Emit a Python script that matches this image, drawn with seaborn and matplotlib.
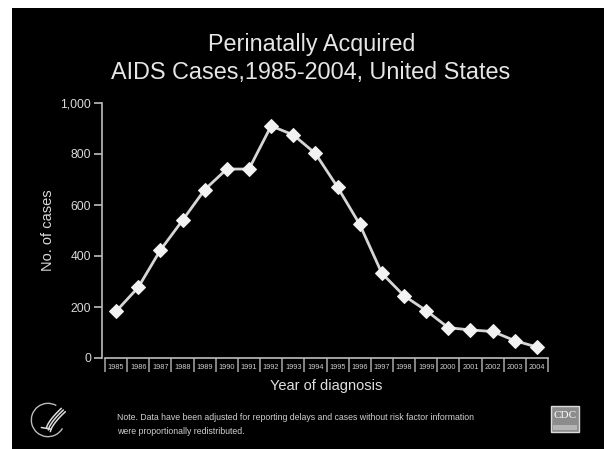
import numpy as np
import pandas as pd
import seaborn as sns
import matplotlib
matplotlib.use("Agg")
import matplotlib.pyplot as plt
from matplotlib.patches import Rectangle, Arc

# Data
years = [str(y) for y in range(1985, 2005)]
cases = [183, 277, 423, 540, 660, 741, 741, 910, 875, 802,
         670, 524, 332, 244, 186, 119, 110, 104, 68, 43]
y_ticks = [0, 200, 400, 600, 800, 1000]
y_labels = ["0", "200", "400", "600", "800", "1,000"]

df = pd.DataFrame({"year": years, "cases": cases})

sns.set_theme(style="dark")
plt.rcParams["font.family"] = ["Liberation Sans", "DejaVu Sans"]

fig = plt.figure(figsize=(6.09, 4.49), dpi=100)
fig.patch.set_facecolor("white")

# black slide panel as a background axes
bg = fig.add_axes([12 / 609, 0, 592 / 609, 441 / 449], zorder=-5)
bg.set_facecolor("black")
bg.set_xticks([])
bg.set_yticks([])
for s in bg.spines.values():
    s.set_visible(False)

ax = fig.add_axes([105 / 609, 1 - 358 / 449, 443 / 609, 255 / 449], zorder=1)
ax.set_facecolor("black")

sns.lineplot(data=df, x="year", y="cases", ax=ax, color="#d6d6d6",
             linewidth=2, marker="D", markersize=7,
             markerfacecolor="#f2f2f2", markeredgecolor="#f2f2f2",
             sort=False)

ax.set_xlim(-0.5, len(years) - 0.5)
ax.set_ylim(0, 1000)
ax.set_yticks(y_ticks)
ax.set_yticklabels(y_labels)
ax.grid(False)

for s in ["top", "right"]:
    ax.spines[s].set_visible(False)
for s in ["left", "bottom"]:
    ax.spines[s].set_color("#bdbdbd")
    ax.spines[s].set_linewidth(1.2)
ax.spines["left"].set_position(("outward", 2))

ax.tick_params(axis="y", colors="#bdbdbd", labelcolor="#d9d9d9",
               labelsize=8.7, length=6, width=1.2, direction="out", left=True,
               pad=2)
# year labels sit in little boxes: separators as minor ticks
ax.set_xticks(np.arange(len(years)))
ax.set_xticklabels(years)
ax.set_xticks(np.arange(len(years) + 1) - 0.5, minor=True)
ax.tick_params(axis="x", which="major", length=0, labelsize=5.3,
               labelcolor="#cfcfcf", pad=4)
ax.tick_params(axis="x", which="minor", length=10, width=1.2,
               color="#9a9a9a", direction="out", bottom=True)

ax.set_xlabel("Year of diagnosis", color="#e0e0e0", fontsize=10.5, labelpad=2)
ax.set_ylabel("No. of cases", color="#d9d9d9", fontsize=10.5, labelpad=4)

fig.text(312 / 609, 1 - 44 / 449, "Perinatally Acquired", ha="center",
         va="center", color="#e6e6e6", fontsize=16.8)
fig.text(311 / 609, 1 - 72 / 449, "AIDS Cases,1985-2004, United States",
         ha="center", va="center", color="#e6e6e6", fontsize=16.8)

fig.text(117 / 609, 1 - 418 / 449,
         "Note. Data have been adjusted for reporting delays and cases "
         "without risk factor information", color="#cfcfcf", fontsize=6.3,
         va="center")
fig.text(117 / 609, 1 - 431 / 449, "were proportionally redistributed.",
         color="#cfcfcf", fontsize=6.3, va="center")

# CDC logo
fig.patches.append(Rectangle((551 / 609, 1 - 432 / 449), 28 / 609, 26 / 449,
                             transform=fig.transFigure, facecolor="#8c8c8c",
                             edgecolor="#dcdcdc", linewidth=1, zorder=2))
fig.patches.append(Rectangle((553 / 609, 1 - 430 / 449), 24 / 609, 5 / 449,
                             transform=fig.transFigure, facecolor="#b5b5b5",
                             edgecolor="none", zorder=2))
fig.text(565 / 609, 1 - 415 / 449, "CDC", ha="center", va="center",
         color="white", fontsize=8, family="Liberation Serif", zorder=3)

# HHS logo (rough)
logo = fig.add_axes([28 / 609, 1 - 440 / 449, 40 / 609, 40 / 449], zorder=1)
logo.set_xlim(-1.2, 1.2)
logo.set_ylim(-1.2, 1.2)
logo.axis("off")
logo.add_patch(Arc((0, 0), 2, 2, theta1=60, theta2=330, color="#bbbbbb", lw=1))
for k in range(3):
    t = np.linspace(0, 1, 20)
    logo.plot(-0.1 + 0.9 * t + k * 0.12, -0.5 + 1.2 * t ** 0.7 - k * 0.1,
              color="#dddddd", lw=1.1)
logo.plot([-0.4, 0.2], [-0.45, -0.55], color="#dddddd", lw=1.1)

fig.savefig("out.png", dpi=100, facecolor=fig.get_facecolor())
